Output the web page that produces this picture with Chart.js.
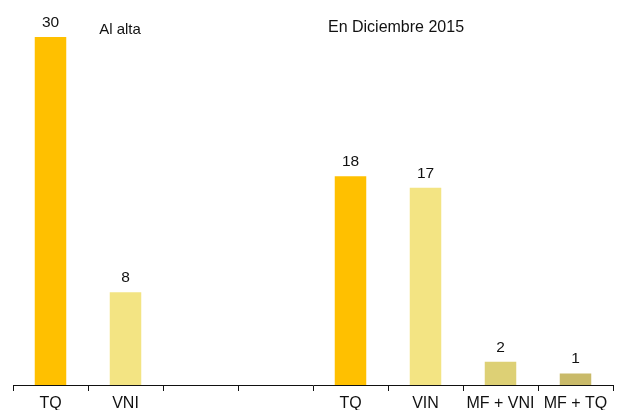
<!DOCTYPE html>
<html>
<head>
<meta charset="utf-8">
<script src="https://cdn.jsdelivr.net/npm/chart.js@4"></script>
<style>
  html, body { margin: 0; padding: 0; background: #fff; }
  #wrap { width: 627px; height: 410px; }
</style>
</head>
<body>
<div id="wrap"><canvas id="chart" width="627" height="410"></canvas></div>
<script>
const categories = ['TQ', 'VNI', '', '', 'TQ', 'VIN', 'MF + VNI', 'MF + TQ'];
const patients = [30, 8, null, null, 18, 17, 2, 1];
const barColors = ['#FFC000', '#F3E483', '#fff', '#fff', '#FFC000', '#F3E483', '#DDD075', '#C9BA69'];
const groupTitles = [
  { text: 'Al alta', x: 120, y: 34, size: 15 },
  { text: 'En Diciembre 2015', x: 396, y: 32, size: 16 }
];

const FONT = 'Helvetica, "Liberation Sans", Arial, sans-serif';

// numbers above each bar
const valueLabels = {
  id: 'valueLabels',
  afterDatasetsDraw(chart) {
    const ctx = chart.ctx;
    const meta = chart.getDatasetMeta(0);
    ctx.save();
    ctx.font = '15.5px ' + FONT;
    ctx.fillStyle = '#111';
    ctx.textAlign = 'center';
    ctx.textBaseline = 'alphabetic';
    meta.data.forEach((bar, i) => {
      if (patients[i] == null) return;
      ctx.fillText(String(patients[i]), bar.x, bar.y - 10);
    });
    ctx.restore();
  }
};

// titles for the two groups of bars
const groupLabels = {
  id: 'groupLabels',
  afterDraw(chart) {
    const ctx = chart.ctx;
    ctx.save();
    ctx.fillStyle = '#111';
    ctx.textAlign = 'center';
    ctx.textBaseline = 'alphabetic';
    groupTitles.forEach(t => {
      ctx.font = t.size + 'px ' + FONT;
      ctx.fillText(t.text, t.x, t.y);
    });
    ctx.restore();
  }
};

new Chart(document.getElementById('chart').getContext('2d'), {
  type: 'bar',
  data: {
    labels: categories,
    datasets: [{
      data: patients,
      backgroundColor: barColors,
      borderWidth: 0,
      barPercentage: 0.42,
      categoryPercentage: 1
    }]
  },
  options: {
    responsive: false,
    animation: false,
    layout: { padding: { left: 13, right: 14, top: 37, bottom: 0 } },
    plugins: {
      legend: { display: false },
      tooltip: { enabled: false }
    },
    scales: {
      x: {
        // labels run off the bottom edge a little
        afterFit(scale) { scale.height = 25; },
        grid: {
          display: true,
          drawOnChartArea: false,
          drawTicks: true,
          tickLength: 6,
          color: '#111',
          offset: true
        },
        border: { display: true, color: '#111', width: 1 },
        ticks: {
          color: '#111',
          font: { family: FONT, size: 16 },
          padding: 3,
          maxRotation: 0,
          autoSkip: false
        }
      },
      y: {
        display: false,
        min: 0,
        max: 30
      }
    }
  },
  plugins: [valueLabels, groupLabels]
});
</script>
</body>
</html>
